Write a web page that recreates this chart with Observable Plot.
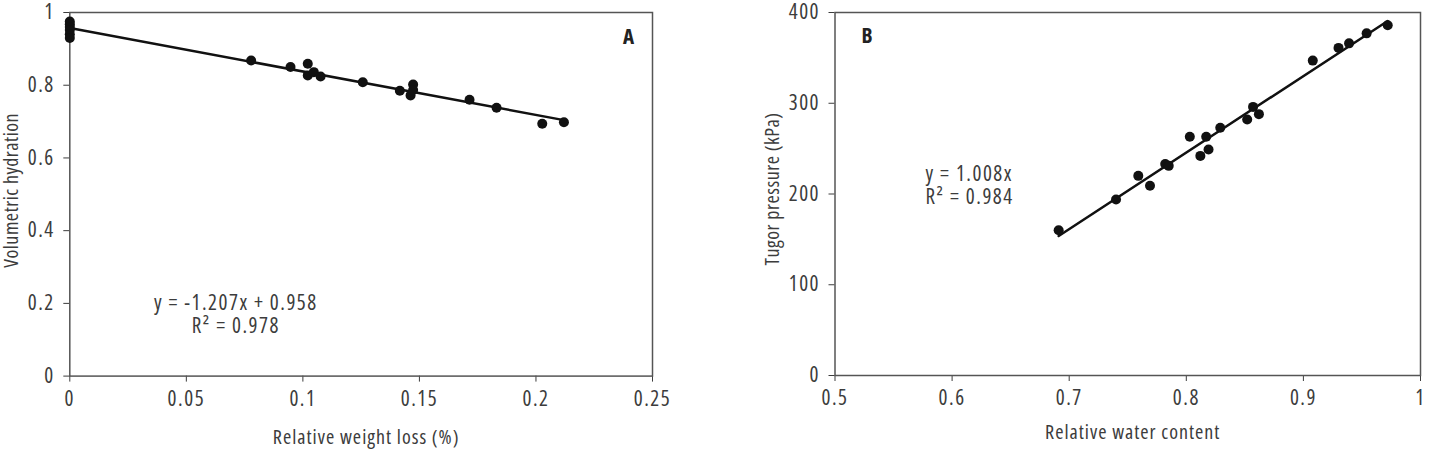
<!DOCTYPE html>
<html><head><meta charset="utf-8">
<script src="https://cdn.jsdelivr.net/npm/d3@7"></script>
<script src="https://cdn.jsdelivr.net/npm/@observablehq/plot@0.6"></script>
<style>
body{margin:0;background:#fff;width:1429px;height:450px;position:relative;overflow:hidden;}
#a{position:absolute;left:0;top:0;}
#b{position:absolute;left:720px;top:0;}
svg text{font-stretch:75%;letter-spacing:1.5px;}
</style></head><body><div id="a"></div><div id="b"></div>
<script>
// Panel A
const weightLoss = [0,0,0,0,0,0,0.0778,0.0947,0.1021,0.1021,0.1047,0.1076,0.1257,0.1416,0.1473,0.1462,0.1473,0.1715,0.1831,0.2027,0.2120];
const hydration  = [0.975,0.968,0.960,0.952,0.940,0.930,0.868,0.850,0.859,0.827,0.836,0.824,0.808,0.785,0.802,0.772,0.787,0.760,0.738,0.694,0.698];
const xTicksA = [0,0.05,0.1,0.15,0.2,0.25];
const yTicksA = [0,0.2,0.4,0.6,0.8,1];
const eqA = "y = -1.207x + 0.958\nR\u00b2 = 0.978";
const xTitleA = "Relative weight loss (%)";
const yTitleA = "Volumetric hydration";
// Panel B
const waterContent = [0.691,0.740,0.759,0.769,0.782,0.785,0.803,0.812,0.819,0.817,0.829,0.852,0.857,0.862,0.908,0.930,0.939,0.954,0.972];
const tugor        = [160,194,220,209,233,231,263,242,249,263,273,282,296,288,347,361,366,377,386];
const xTicksB = [0.5,0.6,0.7,0.8,0.9,1];
const yTicksB = [0,100,200,300,400];
const eqB = "y = 1.008x\nR\u00b2 = 0.984";
const xTitleB = "Relative water content";
const yTitleB = "Tugor pressure (kPa)";

const FONT = "'Open Sans','Liberation Sans Narrow','DejaVu Sans Condensed',sans-serif";
const fmt = d => String(+d.toFixed(2));
const style = {fontSize:"21px", fontFamily:FONT, fontWeight:"normal", color:"#3c3c3c", background:"#fff"};

const dataA = weightLoss.map((x,i)=>({x, y:hydration[i]}));
const dataB = waterContent.map((x,i)=>({x, y:tugor[i]}));

const plotA = Plot.plot({
  width:700, height:450,
  marginLeft:69.3, marginRight:48, marginTop:12, marginBottom:74.4,
  style,
  x:{domain:[0,0.25], ticks:xTicksA, tickFormat:fmt, tickSize:6, tickPadding:9, label:null},
  y:{domain:[0,1], ticks:yTicksA, tickFormat:fmt, tickSize:6, tickPadding:9, label:null},
  marks:[
    Plot.frame({stroke:"#555", strokeWidth:1.5}),
    Plot.linearRegressionY(dataA, {x:"x", y:"y", stroke:"#111", strokeWidth:2.5, ci:0}),
    Plot.dot(dataA, {x:"x", y:"y", r:5, fill:"#111", stroke:"none"}),
    Plot.text([eqA], {frameAnchor:"top-left", dx:166, dy:302, textAnchor:"middle", lineAnchor:"middle", lineHeight:1.1, fill:"#3c3c3c"}),
    Plot.text(["A"], {frameAnchor:"top-right", dx:-24, dy:25, textAnchor:"middle", lineAnchor:"middle", fontWeight:"bold", fill:"#222"}),
    Plot.text([xTitleA], {frameAnchor:"bottom", dx:5, dy:61, textAnchor:"middle", lineAnchor:"middle", fontSize:20, fill:"#3c3c3c"}),
    Plot.text([yTitleA], {frameAnchor:"left", dx:-58, dy:-4, rotate:-90, textAnchor:"middle", lineAnchor:"middle", fontSize:20, fill:"#3c3c3c"})
  ]
});
document.getElementById("a").append(plotA);

const plotB = Plot.plot({
  width:709, height:450,
  marginLeft:114.5, marginRight:9, marginTop:12, marginBottom:75,
  style,
  x:{domain:[0.5,1], ticks:xTicksB, tickFormat:fmt, tickSize:6, tickPadding:9, label:null},
  y:{domain:[0,400], ticks:yTicksB, tickFormat:fmt, tickSize:6, tickPadding:9, label:null},
  marks:[
    Plot.frame({stroke:"#555", strokeWidth:1.5}),
    Plot.linearRegressionY(dataB, {x:"x", y:"y", stroke:"#111", strokeWidth:2.5, ci:0}),
    Plot.dot(dataB, {x:"x", y:"y", r:5, fill:"#111", stroke:"none"}),
    Plot.text([eqB], {frameAnchor:"top-left", dx:90.5, dy:173, textAnchor:"start", lineAnchor:"middle", lineHeight:1.1, fill:"#3c3c3c"}),
    Plot.text(["B"], {frameAnchor:"top-left", dx:32, dy:24, textAnchor:"middle", lineAnchor:"middle", fontWeight:"bold", fill:"#222"}),
    Plot.text([xTitleB], {frameAnchor:"bottom", dx:5, dy:57, textAnchor:"middle", lineAnchor:"middle", fontSize:20, fill:"#3c3c3c"}),
    Plot.text([yTitleB], {frameAnchor:"left", dx:-62.5, dy:-5, rotate:-90, textAnchor:"middle", lineAnchor:"middle", fontSize:20, fill:"#3c3c3c"})
  ]
});
document.getElementById("b").append(plotB);

// per-text letter spacing for the axis titles
d3.selectAll("svg text").each(function(){
  const t = this.textContent;
  if (t === xTitleA || t === xTitleB) this.style.letterSpacing = "1px";
  if (t === yTitleA || t === yTitleB) this.style.letterSpacing = "0.5px";
  if (t === "A" || t === "B") this.style.letterSpacing = "0px";
});
</script></body></html>
